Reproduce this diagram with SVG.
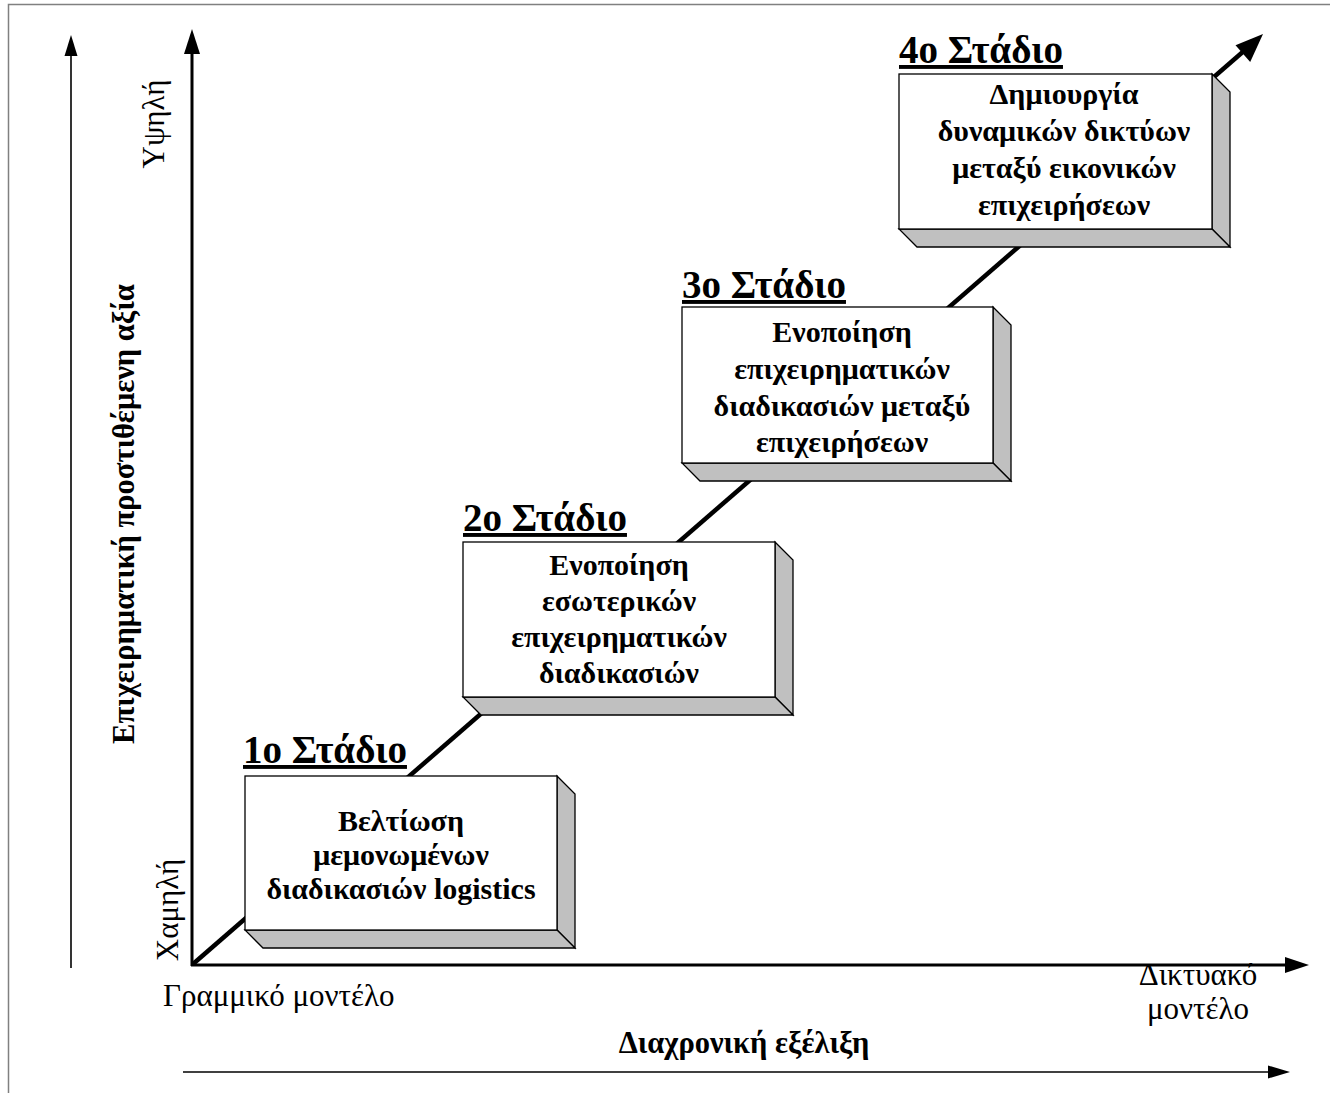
<svg xmlns="http://www.w3.org/2000/svg" width="1330" height="1093" viewBox="0 0 1330 1093">
<style>
.frame{fill:none;stroke:#808080;stroke-width:1.5}
.front{fill:#ffffff;stroke:#000;stroke-width:1.3}
.side{fill:#c0c0c0;stroke:#000;stroke-width:1.3}
.bt{font-family:"Liberation Serif","Times New Roman",serif;font-weight:bold;font-size:30px;text-anchor:middle;fill:#000}
.st{font-family:"Liberation Serif","Times New Roman",serif;font-weight:bold;font-size:39px;text-decoration:underline;fill:#000}
.lab{font-family:"Liberation Serif","Times New Roman",serif;font-size:31px;fill:#000}
.labb{font-family:"Liberation Serif","Times New Roman",serif;font-size:30.5px;font-weight:bold;fill:#000}
</style>
<rect width="1330" height="1093" fill="#fff"/>
<path class="frame" d="M8.5,1093 V4.5 H1330"/>
<g id="connectors">
<line x1="71" y1="968" x2="71" y2="55" stroke="#000" stroke-width="1.6"/>
<path d="M71,35 L64.5,56 L77.5,56 Z" fill="#000"/>
<line x1="183" y1="1072" x2="1270" y2="1072" stroke="#000" stroke-width="1.6"/>
<path d="M1290,1072 L1268,1065.5 L1268,1078.5 Z" fill="#000"/>
<line x1="192" y1="966" x2="192" y2="52" stroke="#000" stroke-width="3"/>
<path d="M192,29 L184,54 L200,54 Z" fill="#000"/>
<line x1="191" y1="965" x2="1287" y2="965" stroke="#000" stroke-width="3"/>
<path d="M1309,965 L1285,957 L1285,973 Z" fill="#000"/>
<line x1="193" y1="964" x2="1245" y2="50" stroke="#000" stroke-width="4.5"/>
<path d="M1263,34 L1235.5,45.2 L1250.2,62.1 Z" fill="#000"/>
</g>
<g id="stage1">
<polygon class="side" points="557,776 575,794 575,948 557,930"/>
<polygon class="side" points="245,930 557,930 575,948 263,948"/>
<rect class="front" x="245" y="776" width="312" height="154"/>
<text class="st" x="243" y="763">1ο Στάδιο</text>
<text class="bt" x="401" y="831">Βελτίωση</text>
<text class="bt" x="401" y="865">μεμονωμένων</text>
<text class="bt" x="401" y="899">διαδικασιών logistics</text>
</g>
<g id="stage2">
<polygon class="side" points="775,542 793,560 793,715 775,697"/>
<polygon class="side" points="463,697 775,697 793,715 481,715"/>
<rect class="front" x="463" y="542" width="312" height="155"/>
<text class="st" x="463" y="531">2ο Στάδιο</text>
<text class="bt" x="619" y="575">Ενοποίηση</text>
<text class="bt" x="619" y="611">εσωτερικών</text>
<text class="bt" x="619" y="647">επιχειρηματικών</text>
<text class="bt" x="619" y="683">διαδικασιών</text>
</g>
<g id="stage3">
<polygon class="side" points="993,307 1011,325 1011,481 993,463"/>
<polygon class="side" points="682,463 993,463 1011,481 700,481"/>
<rect class="front" x="682" y="307" width="311" height="156"/>
<text class="st" x="682" y="298">3ο Στάδιο</text>
<text class="bt" x="842" y="342">Ενοποίηση</text>
<text class="bt" x="842" y="379">επιχειρηματικών</text>
<text class="bt" x="842" y="416">διαδικασιών μεταξύ</text>
<text class="bt" x="842" y="452">επιχειρήσεων</text>
</g>
<g id="stage4">
<polygon class="side" points="1212,74 1230,92 1230,247 1212,229"/>
<polygon class="side" points="899,229 1212,229 1230,247 917,247"/>
<rect class="front" x="899" y="74" width="313" height="155"/>
<text class="st" x="899" y="63">4ο Στάδιο</text>
<text class="bt" x="1064" y="104">Δημιουργία</text>
<text class="bt" x="1064" y="141">δυναμικών δικτύων</text>
<text class="bt" x="1064" y="178">μεταξύ εικονικών</text>
<text class="bt" x="1064" y="215">επιχειρήσεων</text>
</g>
<g id="labels">
<text class="lab" transform="translate(164,124) rotate(-90)" text-anchor="middle">Υψηλή</text>
<text class="lab" transform="translate(178,910) rotate(-90)" text-anchor="middle">Χαμηλή</text>
<text class="labb" transform="translate(134,514) rotate(-90)" text-anchor="middle">Επιχειρηματική προστιθέμενη αξία</text>
<text class="lab" x="163" y="1006">Γραμμικό μοντέλο</text>
<text class="lab" x="1198" y="985" text-anchor="middle">Δικτυακό</text>
<text class="lab" x="1198" y="1019" text-anchor="middle">μοντέλο</text>
<text class="labb" x="744" y="1053" text-anchor="middle">Διαχρονική εξέλιξη</text>
</g>
</svg>
